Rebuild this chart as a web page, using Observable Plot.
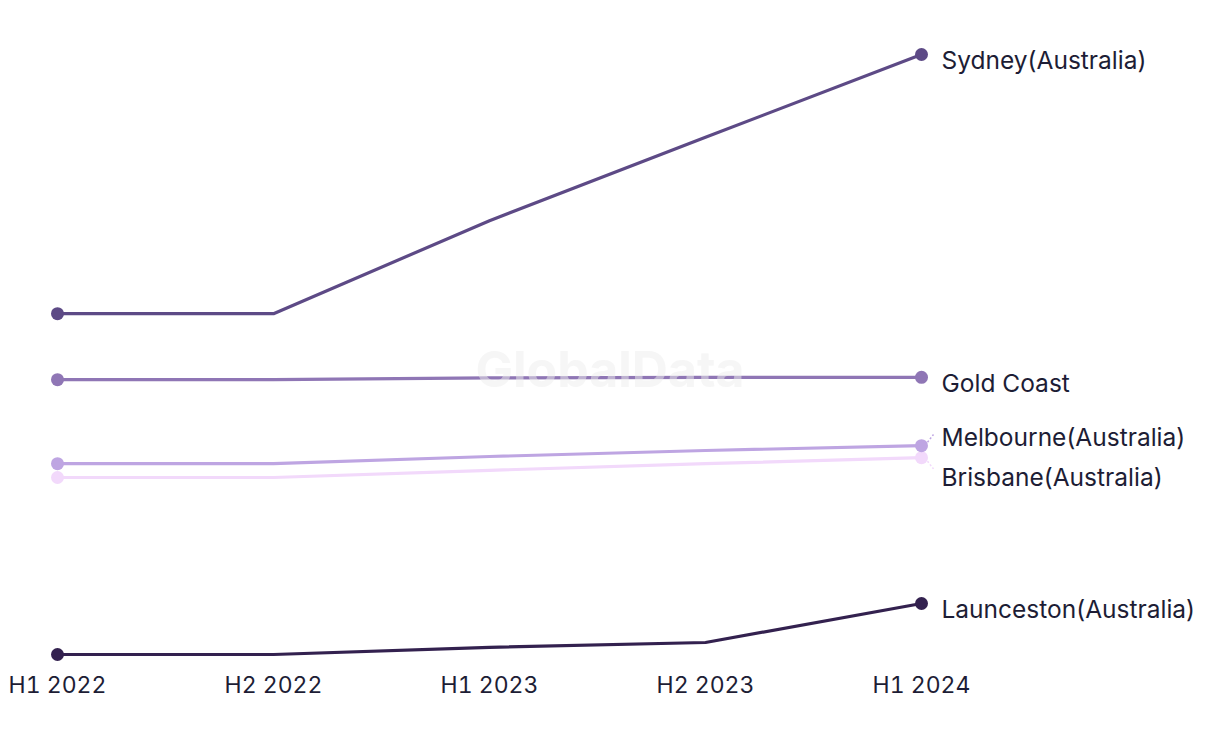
<!DOCTYPE html>
<html>
<head>
<meta charset="utf-8">
<script src="https://cdn.jsdelivr.net/npm/d3@7"></script>
<script src="https://cdn.jsdelivr.net/npm/@observablehq/plot@0.6"></script>
<style>
  html, body { margin: 0; padding: 0; background: #fff; }
  #chart { position: relative; width: 1220px; height: 744px; }
</style>
</head>
<body>
<div id="chart"></div>
<script>
const periods = ["H1 2022", "H2 2022", "H1 2023", "H2 2023", "H1 2024"];
const cities = ["Launceston(Australia)", "Brisbane(Australia)", "Melbourne(Australia)", "Gold Coast", "Sydney(Australia)"];
const colors = ["#33214f", "#f2d9fb", "#bea5e2", "#8f76b5", "#5d4a86"];
const sydney = [56.8, 56.8, 72.3, 86.2, 100];
const goldCoast = [45.8, 45.8, 46.1, 46.2, 46.2];
const melbourne = [31.8, 31.8, 33.0, 34.0, 34.8];
const brisbane = [29.5, 29.5, 30.7, 31.8, 32.8];
const launceston = [0, 0, 1.2, 2.0, 8.5];

const seriesValues = [launceston, brisbane, melbourne, goldCoast, sydney];
const data = [];
cities.forEach((c, ci) => seriesValues[ci].forEach((v, i) => data.push({city: c, i, value: v})));

const W = 1220, H = 744, mT = 54, mB = 90, mL = 57, mR = 299;
const yDomain = [0, 100];
const yPix = d3.scaleLinear(yDomain, [H - mB, mT]);
const last = periods.length - 1;

// label dodge in pixel space
const labels = cities.map((c, ci) => ({city: c, ci, value: seriesValues[ci][last], py: yPix(seriesValues[ci][last])}));
const sorted = [...labels].sort((a, b) => a.py - b.py);
sorted.forEach(d => d.ly = d.py);
const gap = 40;
for (let iter = 0; iter < 50; iter++) {
  for (let k = 1; k < sorted.length; k++) {
    const a = sorted[k - 1], b = sorted[k];
    const o = gap - (b.ly - a.ly);
    if (o > 0) { a.ly -= o / 2; b.ly += o / 2; }
  }
}
labels.forEach(d => { d.labelValue = yPix.invert(d.ly); d.moved = Math.abs(d.ly - d.py) > 2; });
const ends = data.filter(d => d.i === 0 || d.i === last);
const xStep = 1 / ((W - mL - mR) / last);

const plot = Plot.plot({
  width: W, height: H,
  marginTop: mT, marginBottom: mB, marginLeft: mL, marginRight: mR,
  style: {fontFamily: "Inter, 'Noto Sans', sans-serif", fontSize: "23px", color: "#1d1d35", background: "#fff"},
  x: {type: "linear", domain: [0, last], ticks: d3.range(periods.length), tickFormat: i => periods[i], tickSize: 0, tickPadding: 22, label: null},
  y: {domain: yDomain, axis: null},
  color: {domain: cities, range: colors},
  marks: [
    Plot.line(data, {x: "i", y: "value", z: "city", stroke: "city", strokeWidth: 3.2, curve: "linear"}),
    Plot.dot(ends, {x: "i", y: "value", fill: "city", r: 6.5}),
    Plot.link(labels.filter(d => d.moved), {
      x1: () => last + 6 * xStep, y1: d => d.value + (d.labelValue - d.value) * 0.25,
      x2: () => last + 12 * xStep, y2: d => d.value + (d.labelValue - d.value) * 0.8,
      stroke: d => d.city, strokeWidth: 1.5, strokeDasharray: "2,2"
    }),
    Plot.text(labels, {x: () => last, y: "labelValue", text: "city", dx: 20, dy: 6.5, textAnchor: "start", fill: "#1d1d35", fontSize: 24.5})
  ]
});
document.getElementById("chart").appendChild(plot);
d3.select(plot).append("text")
  .attr("x", W / 2).attr("y", 373)
  .attr("text-anchor", "middle").attr("dominant-baseline", "middle")
  .attr("font-family", "Inter, sans-serif").attr("font-weight", 700).attr("font-size", 50)
  .attr("fill", "#eeeeee").attr("fill-opacity", 0.5)
  .text("GlobalData");
</script>
</body>
</html>
